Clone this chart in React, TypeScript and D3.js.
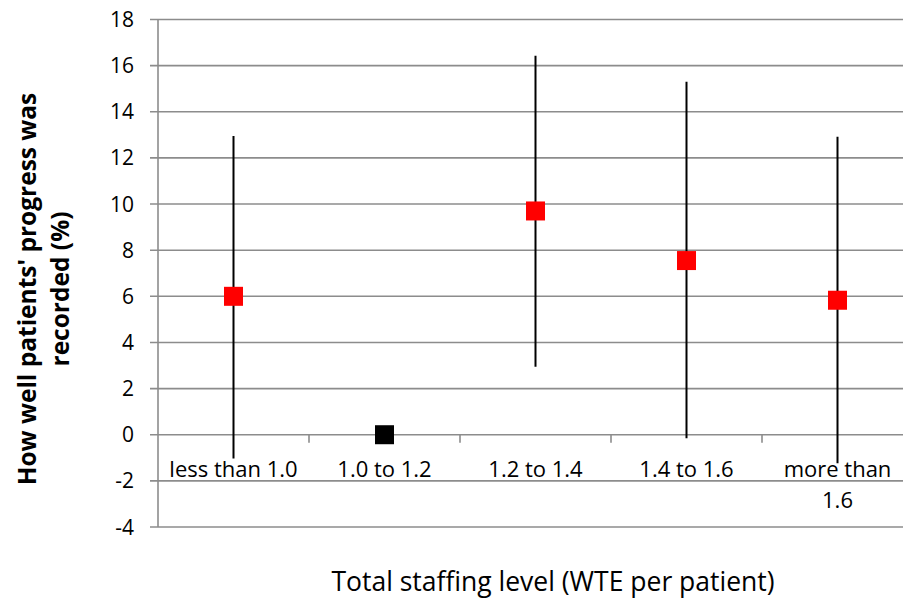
import { useEffect } from "react"
import * as d3 from "d3"

const categories = ["less than 1.0", "1.0 to 1.2", "1.2 to 1.4", "1.4 to 1.6", "more than 1.6"]
// Excel wrapped the last label onto two lines
const wrappedLabels = [["less than 1.0"], ["1.0 to 1.2"], ["1.2 to 1.4"], ["1.4 to 1.6"], ["more than", "1.6"]]
const values = [6.0, 0, 9.7, 7.55, 5.83]
const upper = [12.95, null, 16.43, 15.3, 12.92]
const lower = [-1.03, null, 2.95, -0.15, -1.24]
const markerColors = ["#ff0000", "#000000", "#ff0000", "#ff0000", "#ff0000"]
const yTicks = [-4, -2, 0, 2, 4, 6, 8, 10, 12, 14, 16, 18]

const width = 903
const height = 598
const margin = { top: 19.5, right: -10, bottom: 71, left: 158 }
const font = "'Open Sans', 'Liberation Sans', sans-serif"

export default function App() {
  useEffect(() => {
    document.body.style.margin = "0"
  }, [])

  const x = d3.scaleBand<string>()
    .domain(categories)
    .range([margin.left, width - margin.right])
    .padding(0)

  const y = d3.scaleLinear()
    .domain([-4, 18])
    .range([height - margin.bottom, margin.top])

  const x0 = margin.left
  const x1 = width - margin.right
  const m = 19

  return (
    <svg width={width} height={height} style={{ display: "block", background: "#fff" }}>
      {/* gridlines */}
      {yTicks.map((t) => (
        <line key={t} x1={x0 - 8} x2={x1} y1={y(t)} y2={y(t)} stroke="#8c8c8c" strokeWidth={1.6} />
      ))}
      {/* y axis */}
      <line x1={x0} x2={x0} y1={y(18)} y2={y(-4)} stroke="#8c8c8c" strokeWidth={1.6} />
      {/* category ticks along zero line */}
      {categories.slice(1).map((c) => (
        <line key={c} x1={x(c)!} x2={x(c)!} y1={y(0)} y2={y(0) + 8} stroke="#8c8c8c" strokeWidth={1.6} />
      ))}
      {yTicks.map((t) => (
        <text key={t} x={134} y={y(t)} dy="0.36em" textAnchor="end" fontFamily={font} fontSize={21} fill="#000">
          {t}
        </text>
      ))}
      {/* category labels */}
      {categories.map((c, i) => (
        <text key={c} textAnchor="middle" fontFamily={font} fontSize={22} fill="#000">
          {wrappedLabels[i].map((l, j) => (
            <tspan key={j} x={x(c)! + x.bandwidth() / 2} y={477 + j * 31}>{l}</tspan>
          ))}
        </text>
      ))}
      {/* error bars */}
      {categories.map((c, i) =>
        upper[i] == null ? null : (
          <line key={c} x1={x(c)! + x.bandwidth() / 2} x2={x(c)! + x.bandwidth() / 2}
            y1={y(upper[i] as number)} y2={y(lower[i] as number)} stroke="#000" strokeWidth={2} />
        )
      )}
      {/* markers */}
      {categories.map((c, i) => (
        <rect key={c} x={x(c)! + x.bandwidth() / 2 - m / 2} y={y(values[i]) - m / 2} width={m} height={m} fill={markerColors[i]} />
      ))}
      {/* axis titles */}
      <text x={553} y={591} textAnchor="middle" fontFamily={font} fontSize={26.5} fill="#000">
        Total staffing level (WTE per patient)
      </text>
      <g transform="translate(0, 289) rotate(-90)" fontFamily={font} fontSize={24.5} fontWeight="bold" fill="#000">
        <text x={0} y={36} textAnchor="middle">How well patients' progress was</text>
        <text x={0} y={69} textAnchor="middle">recorded (%)</text>
      </g>
    </svg>
  )
}
